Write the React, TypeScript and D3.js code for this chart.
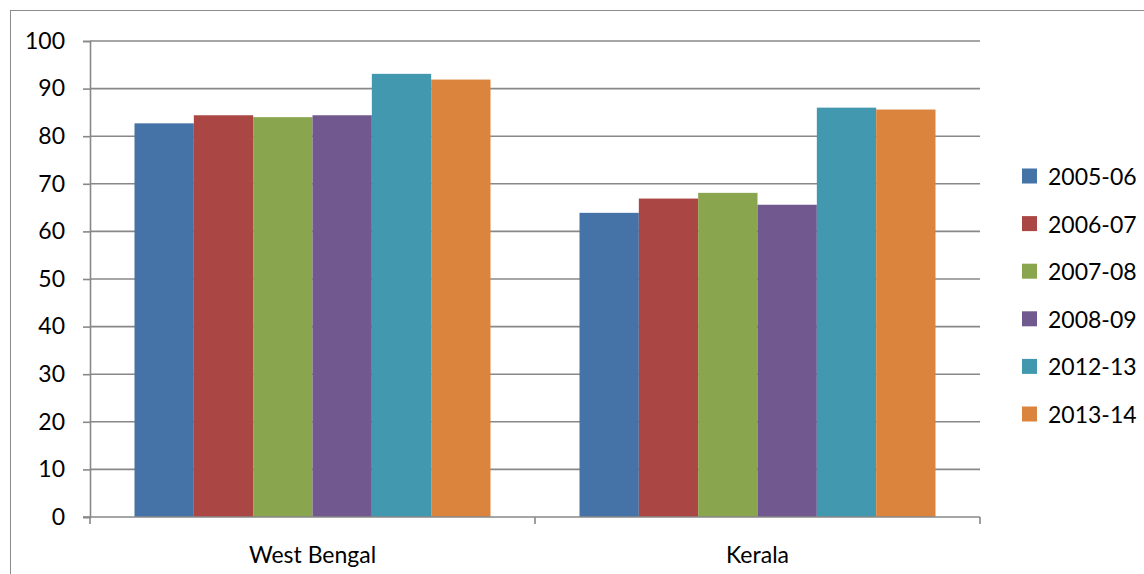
import { useEffect, useRef } from 'react';
import * as d3 from 'd3';

const states = ['West Bengal', 'Kerala'];
const years = ['2005-06', '2006-07', '2007-08', '2008-09', '2012-13', '2013-14'];
const westBengal = [82.7, 84.4, 84.0, 84.4, 93.1, 91.9];
const kerala = [63.9, 66.9, 68.1, 65.6, 86.0, 85.6];
const yTicks = [0, 10, 20, 30, 40, 50, 60, 70, 80, 90, 100];
const colors = ['#4572A7', '#AA4643', '#89A54E', '#71588F', '#4198AF', '#DB843D'];

const W = 1144;
const H = 574;
const FONT = 'Lato, "Open Sans", sans-serif';

export default function App() {
  const ref = useRef<SVGSVGElement | null>(null);

  useEffect(() => {
    if (!ref.current) return;
    const svg = d3.select(ref.current);
    svg.selectAll('*').remove();

    const values = [westBengal, kerala];
    const left = 90, right = 980, top = 41, bottom = 517;

    const x0 = d3.scaleBand<string>().domain(states).range([left, right]).paddingInner(0.2).paddingOuter(0.1);
    const x1 = d3.scaleBand<string>().domain(years).range([0, x0.bandwidth()]);
    const y = d3.scaleLinear().domain([0, 100]).range([bottom, top]);

    // chart frame
    svg.append('rect')
      .attr('x', 10.5).attr('y', 10.5)
      .attr('width', W).attr('height', H)
      .attr('fill', 'white').attr('stroke', '#8c8c8c').attr('stroke-width', 1);

    // gridlines
    svg.append('g')
      .selectAll('line')
      .data(yTicks.filter((t) => t > 0))
      .join('line')
      .attr('x1', left).attr('x2', right)
      .attr('y1', (d) => y(d)).attr('y2', (d) => y(d))
      .attr('stroke', '#888').attr('stroke-width', 1.6);

    // bars
    const groups = svg.append('g')
      .selectAll('g')
      .data(states)
      .join('g')
      .attr('transform', (d) => `translate(${x0(d)},0)`);

    groups.selectAll('rect')
      .data((_d, i) => values[i].map((v, j) => ({ year: years[j], v, j })))
      .join('rect')
      .attr('x', (d) => x1(d.year)!)
      .attr('width', x1.bandwidth())
      .attr('y', (d) => y(d.v))
      .attr('height', (d) => y(0) - y(d.v))
      .attr('fill', (d) => colors[d.j]);

    // y axis
    const yAxis = svg.append('g')
      .attr('transform', `translate(${left},0)`)
      .call(d3.axisLeft(y).tickValues(yTicks).tickSize(7).tickPadding(18).tickFormat(d3.format('d')));
    yAxis.select('.domain').attr('stroke', '#888').attr('stroke-width', 1.6);
    yAxis.selectAll('.tick line').attr('stroke', '#888').attr('stroke-width', 1.6);
    yAxis.selectAll('.tick text')
      .attr('font-family', FONT).attr('font-size', 23).attr('fill', '#000');

    // x axis
    const xAxisG = svg.append('g').attr('transform', `translate(0,${bottom})`);
    xAxisG.append('line')
      .attr('x1', left - 7).attr('x2', right)
      .attr('stroke', '#888').attr('stroke-width', 1.6);
    xAxisG.selectAll('line.tk')
      .data([left, (left + right) / 2, right])
      .join('line')
      .attr('class', 'tk')
      .attr('x1', (d) => d).attr('x2', (d) => d)
      .attr('y1', 0).attr('y2', 7)
      .attr('stroke', '#888').attr('stroke-width', 1.6);
    xAxisG.selectAll('text')
      .data(states)
      .join('text')
      .attr('x', (d) => x0(d)! + x0.bandwidth() / 2)
      .attr('y', 46)
      .attr('text-anchor', 'middle')
      .attr('font-family', FONT).attr('font-size', 23).attr('fill', '#000')
      .text((d) => d);

    // legend
    const legend = svg.append('g')
      .selectAll('g')
      .data(years)
      .join('g')
      .attr('transform', (_d, i) => `translate(1022,${176 + i * 47.6})`);
    legend.append('rect')
      .attr('x', 0).attr('y', -7.5)
      .attr('width', 15).attr('height', 15)
      .attr('fill', (_d, i) => colors[i]);
    legend.append('text')
      .attr('x', 26).attr('y', 1).attr('dy', '0.35em')
      .attr('font-family', FONT).attr('font-size', 23).attr('fill', '#000')
      .text((d) => d);
  }, []);

  return (
    <svg
      ref={ref}
      width={W}
      height={H}
      style={{ position: 'absolute', left: 0, top: 0, background: 'white' }}
    />
  );
}
